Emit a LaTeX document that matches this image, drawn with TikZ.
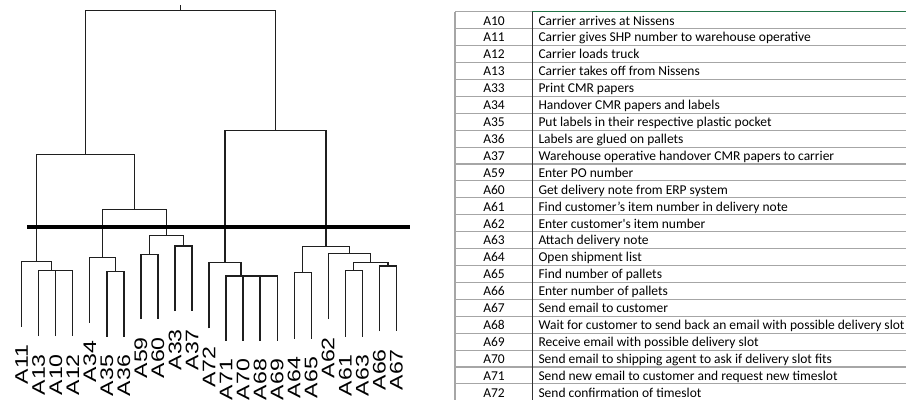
\documentclass[tikz,border=0pt]{standalone}
\usepackage{fontspec}
\setmainfont{Carlito}
\newfontfamily\labfont{Liberation Sans}
\usetikzlibrary{calc}
\definecolor{gridgray}{HTML}{A6A6A6}
\definecolor{xlgreen}{HTML}{217346}
\tikzset{
  dend/.style={line width=1.3pt, draw=black!88},
  cut/.style={line width=3.8pt, draw=black},
  leaflab/.style={rotate=90, anchor=east, inner sep=0pt, font=\labfont\fontsize{18.2}{20}\selectfont},
  rowline/.style={line width=1.1pt, draw=gridgray},
  idtext/.style={anchor=base, inner sep=0pt, font=\fontsize{13.5}{16}\selectfont},
  desctext/.style={anchor=base west, inner sep=0pt, font=\fontsize{13.5}{16}\selectfont},
}
\begin{document}
\begin{tikzpicture}[x=1pt, y=-1pt]
\useasboundingbox (0,0) rectangle (906,400);
% leaves: name/x/yend
\foreach \n/\x/\y in {A11/21.7/326.7, A13/38.7/336, A10/55.8/336, A12/72.8/336,
  A34/89.8/322.7, A35/106.9/336.7, A36/123.9/336.7, A59/140.9/319, A60/157.9/319,
  A33/175.0/311, A37/192.0/311, A72/209.0/328.3, A71/226.1/340.7, A70/243.1/340.7,
  A68/260.1/340.7, A69/277.2/340.7, A64/294.2/338.7, A65/311.2/338.7, A62/328.2/319,
  A61/345.3/336.7, A63/362.3/336.7, A66/379.3/331, A67/396.4/331}{
  \coordinate (\n) at (\x,\y);
  \node[leaflab] (lab\n) at (\x,\y+18) {\scalebox{1.27}[1]{\n}};
}
% merge points
\coordinate (m1) at (64.3,270.7);
\coordinate (m2) at (51.5,270.7);
\coordinate (m3) at (36.6,261.7);
\coordinate (m4) at (115.4,271.7);
\coordinate (m5) at (102.6,257.7);
\coordinate (m6) at (149.4,254.3);
\coordinate (m7) at (183.5,246);
\coordinate (m8) at (166.45,235.7);
\coordinate (m9) at (134.5,209.3);
\coordinate (m10) at (85.6,154.3);
\coordinate (m11) at (268.65,276);
\coordinate (m12) at (255.9,276);
\coordinate (m13) at (241.0,276);
\coordinate (m14) at (225.0,262.7);
\coordinate (m15) at (302.7,272.7);
\coordinate (m16) at (353.8,270.3);
\coordinate (m17) at (387.85,266);
\coordinate (m18) at (370.8,262.7);
\coordinate (m19) at (349.5,253.7);
\coordinate (m20) at (326.1,246.7);
\coordinate (m21) at (275.5,130.7);
\coordinate (m22) at (180.5,10.3);
\coordinate (top) at (180.5,5);
\foreach \a/\m/\b in {A10/m1/A12, A13/m2/m1, A11/m3/m2, A35/m4/A36, A34/m5/m4,
  A59/m6/A60, A33/m7/A37, m6/m8/m7, m5/m9/m8, m3/m10/m9, A68/m11/A69, A70/m12/m11,
  A71/m13/m12, A72/m14/m13, A64/m15/A65, A61/m16/A63, A66/m17/A67, m16/m18/m17,
  A62/m19/m18, m15/m20/m19, m14/m21/m20, m10/m22/m21}{
  \draw[dend] (\a) |- (\m) -| (\b);
}
\draw[dend] (m22) -- (top);
% cut line
\coordinate (cutL) at (27.3,226.7);
\coordinate (cutR) at (410,226.7);
\draw[cut] (cutL) -- (cutR);
% table
\coordinate (tl) at (455,11.7);
\coordinate (td) at (532.3,11.7);
\coordinate (tr) at (906,11.7);
\foreach \k in {1,...,22}{
  \draw[rowline] (455,11.7+16.92*\k) -- (906,11.7+16.92*\k);
}
\draw[rowline] (tl) -- (td);
\draw[line width=1.4pt, draw=xlgreen] (td) -- (tr);
\draw[rowline] (tl) -- (455,400);
\draw[line width=1.1pt, draw=black!80] (td) -- (532.3,400);
\foreach \id/\txt [count=\i from 0] in {
  A10/Carrier arrives at Nissens,
  A11/Carrier gives SHP number to warehouse operative,
  A12/Carrier loads truck,
  A13/Carrier takes off from Nissens,
  A33/Print CMR papers,
  A34/Handover CMR papers and labels,
  A35/Put labels in their respective plastic pocket,
  A36/Labels are glued on pallets,
  A37/Warehouse operative handover CMR papers to carrier,
  A59/Enter PO number,
  A60/Get delivery note from ERP system,
  A61/Find customer’s item number in delivery note,
  A62/Enter customer\textquotesingle s item number,
  A63/Attach delivery note,
  A64/Open shipment list,
  A65/Find number of pallets,
  A66/Enter number of pallets,
  A67/Send email to customer,
  A68/Wait for customer to send back an email with possible delivery slot,
  A69/Receive email with possible delivery slot,
  A70/Send email to shipping agent to ask if delivery slot fits,
  A71/Send new email to customer and request new timeslot,
  A72/Send confirmation of timeslot}{
  \node[idtext] (id\id) at (494,11.7+16.92*\i+13.3) {\id};
  \node[desctext] (tx\id) at (538.3,11.7+16.92*\i+13.3) {\txt};
}
\end{tikzpicture}
\end{document}
